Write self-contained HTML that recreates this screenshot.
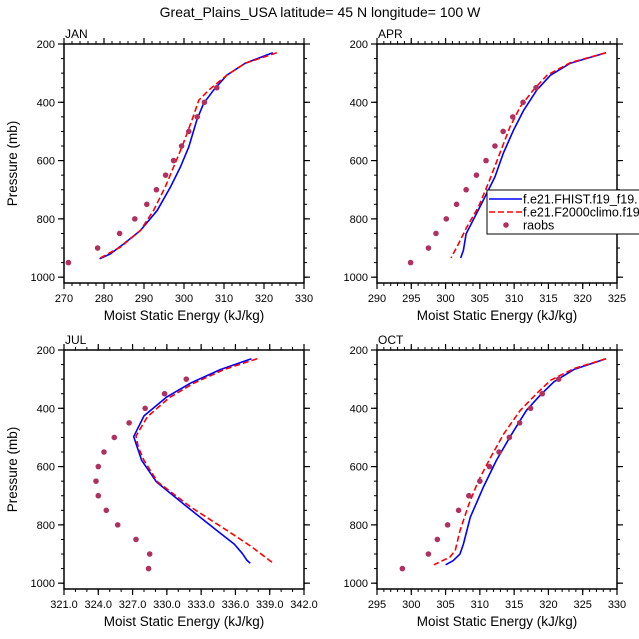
<!DOCTYPE html>
<html><head><meta charset="utf-8"><style>
html,body{margin:0;padding:0;background:#fff;overflow:hidden;}
svg{display:block;font-family:"Liberation Sans",sans-serif;}
</style></head><body>
<svg id="chart" width="639" height="639" viewBox="0 0 639 639">
<text x="320" y="17" font-size="14" text-anchor="middle">Great_Plains_USA  latitude= 45 N longitude= 100 W</text>
</svg>
<script>
const levels = [950,900,850,800,750,700,650,600,550,500,450,400,350,300];
const janBlueP = [230,266,307,358,404,461,553,622,691,771,840,885,920,937];
const janBlueX = [322.2,315.3,310.7,307.4,304.9,303.2,301.2,299.1,296.6,293.3,289.1,285,281.6,278.9];
const janRedP = [230,266,307,358,393,461,553,622,691,771,840,897,934];
const janRedX = [323.2,315.3,310.7,306.2,303.7,302,299.5,297.4,295.3,292.4,289.1,284.1,279.1];
const janObs = [271.1,278.4,283.9,287.7,290.7,293.1,295.4,297.4,299.4,301.2,303.3,305.1,308.2];
const aprBlueP = [230,266,307,358,427,496,576,656,736,805,851,908,934];
const aprBlueX = [323.4,318.2,315.3,313.3,311.4,309.9,308.4,307.2,305.5,304,303,302.6,302.2];
const aprRedP = [230,264,307,358,415,484,576,668,759,828,885,934];
const aprRedX = [323.4,318.2,314.8,312.8,310.9,309.4,307.9,306.4,304.8,303.1,301.9,300.8];
const aprObs = [294.9,297.5,298.6,300.1,301.6,303,304.5,305.9,307.2,308.4,309.8,311.3,313.2];
const julBlueP = [230,267,313,361,426,497,533,579,653,739,820,866,898,921,932];
const julBlueX = [337.4,334.7,332.1,330,328,327.1,327.4,327.8,329.1,331.8,334.4,335.9,336.6,337,337.3];
const julRedP = [230,267,315,364,429,495,533,579,653,739,820,872,931];
const julRedX = [337.9,335,332.3,330.2,328.3,327.3,327.5,328,329.2,332.1,335.3,337.3,339.3];
const julObs = [328.4,328.5,327.3,325.7,324.7,324,323.8,324,324.5,325.4,326.7,328.1,329.8,331.7];
const octBlueP = [230,267,309,355,407,498,579,671,774,866,900,923,937];
const octBlueX = [328.4,323.7,320.8,318.8,316.8,314.4,312.4,310.5,308.6,307.6,307.1,306.1,305];
const octRedP = [230,264,304,349,407,487,567,648,729,820,889,911,937];
const octRedX = [328.4,323.7,320.3,318.3,315.9,313.5,311.6,309.8,308.4,307.1,306.4,305.6,303.3];
const octObs = [298.7,302.5,303.8,305.3,306.9,308.4,310,311.4,312.8,314.3,315.8,317.4,319.1,321.5];
const yTicks = [200,400,600,800,1000];
const janTicks = [270,280,290,300,310,320,330];
const aprTicks = [290,295,300,305,310,315,320,325];
const julTicks = [321,324,327,330,333,336,339,342];
const octTicks = [295,300,305,310,315,320,325,330];

const svg = document.getElementById('chart');
const NS = 'http://www.w3.org/2000/svg';
function mk(tag, attrs, parent){const e=document.createElementNS(NS,tag);for(const k in attrs)e.setAttribute(k,attrs[k]);(parent||svg).appendChild(e);return e;}

function panel(cfg){
  const g = mk('g',{});
  
  
  const L=cfg.left,R=cfg.left+240,T=cfg.top,B=cfg.top+239;
  const xmin=cfg.ticks[0],xmax=cfg.ticks[cfg.ticks.length-1];
  const sx=v=>L+(v-xmin)/(xmax-xmin)*(R-L);
  const sy=p=>T+(p-200)/820*(B-T);
  for(let v=xmin; v<=xmax+1e-9; v+=cfg.minor){
    const x=sx(v);
    mk('line',{x1:x,x2:x,y1:B,y2:B+3,stroke:'#000','stroke-width':1},g);
    mk('line',{x1:x,x2:x,y1:T,y2:T-3,stroke:'#000','stroke-width':1},g);
  }
  for(let p=250;p<=1000;p+=50){
    const y=sy(p);
    mk('line',{x1:L,x2:L-3,y1:y,y2:y,stroke:'#000','stroke-width':1},g);
    mk('line',{x1:R,x2:R+3,y1:y,y2:y,stroke:'#000','stroke-width':1},g);
  }
  cfg.ticks.forEach(v=>{
    const x=sx(v);
    mk('line',{x1:x,x2:x,y1:B,y2:B+6,stroke:'#000','stroke-width':1.2},g);
    mk('line',{x1:x,x2:x,y1:T,y2:T-6,stroke:'#000','stroke-width':1.2},g);
    const t=mk('text',{x:x,y:B+19,'font-size':11,'text-anchor':'middle'},g);
    
    
    t.textContent=cfg.fmt?v.toFixed(1):v;
  });
  yTicks.forEach(p=>{
    const y=sy(p);
    mk('line',{x1:L,x2:L-6,y1:y,y2:y,stroke:'#000','stroke-width':1.2},g);
    mk('line',{x1:R,x2:R+6,y1:y,y2:y,stroke:'#000','stroke-width':1.2},g);
    const t=mk('text',{x:L-9,y:y+4,'font-size':11,'text-anchor':'end'},g);
    
    
    t.textContent=p;
  });
  const box=mk('rect',{x:L,y:T,width:R-L,height:B-T,fill:'none',stroke:'#000','stroke-width':1.5},g);
  
  
  const lab=mk('text',{x:L+1,y:T-6,'font-size':12},g);
  
  
  lab.textContent=cfg.label;
  const xt=mk('text',{x:(L+R)/2,y:B+37,'font-size':13.5,'text-anchor':'middle'},g);
  
  
  xt.textContent='Moist Static Energy (kJ/kg)';
  if(cfg.ytitle){
    const yt=mk('text',{x:0,y:0,'font-size':13.5,'text-anchor':'middle',transform:`translate(17,${(T+B)/2}) rotate(-90)`},g);
    
    
    yt.textContent='Pressure (mb)';
  }
  const bl=mk('polyline',{points:cfg.bx.map((v,i)=>sx(v)+','+sy(cfg.bp[i])).join(' '),fill:'none',stroke:'#0000ff','stroke-width':1.6,'stroke-linejoin':'round'},g);
  
  
  const rl=mk('polyline',{points:cfg.rx.map((v,i)=>sx(v)+','+sy(cfg.rp[i])).join(' '),fill:'none',stroke:'#ff0000','stroke-width':1.6,'stroke-dasharray':'6,3','stroke-linejoin':'round'},g);
  
  
  cfg.obs.forEach((v,i)=>{
    const c=mk('circle',{cx:sx(v),cy:sy(levels[i]),r:2.8,fill:'#b03060'},g);
    
    
  });
}
panel({name:'jan',label:'JAN',left:64,top:44,ticks:janTicks,minor:2,bx:janBlueX,bp:janBlueP,rx:janRedX,rp:janRedP,obs:janObs,ytitle:true});
panel({name:'apr',label:'APR',left:377,top:44,ticks:aprTicks,minor:1,bx:aprBlueX,bp:aprBlueP,rx:aprRedX,rp:aprRedP,obs:aprObs});
panel({name:'jul',label:'JUL',left:64,top:350,ticks:julTicks,minor:1,fmt:true,bx:julBlueX,bp:julBlueP,rx:julRedX,rp:julRedP,obs:julObs,ytitle:true});
panel({name:'oct',label:'OCT',left:377,top:350,ticks:octTicks,minor:1,bx:octBlueX,bp:octBlueP,rx:octRedX,rp:octRedP,obs:octObs});

const lg=mk('g',{});


mk('rect',{x:487,y:190,width:160,height:44,fill:'#fff',stroke:'#000','stroke-width':1},lg);
mk('line',{x1:489,x2:522,y1:199,y2:199,stroke:'#0000ff','stroke-width':1.6},lg);
mk('line',{x1:489,x2:522,y1:212,y2:212,stroke:'#ff0000','stroke-width':1.6,'stroke-dasharray':'6,3'},lg);
mk('circle',{cx:506,cy:225,r:2.8,fill:'#b03060'},lg);
[['f.e21.FHIST.f19_f19.',203.5],['f.e21.F2000climo.f19',216.5],['raobs',229.5]].forEach(d=>{
  const t=mk('text',{x:523,y:d[1],'font-size':12.5},lg);
  
  
  t.textContent=d[0];
});
</script>
</body></html>
